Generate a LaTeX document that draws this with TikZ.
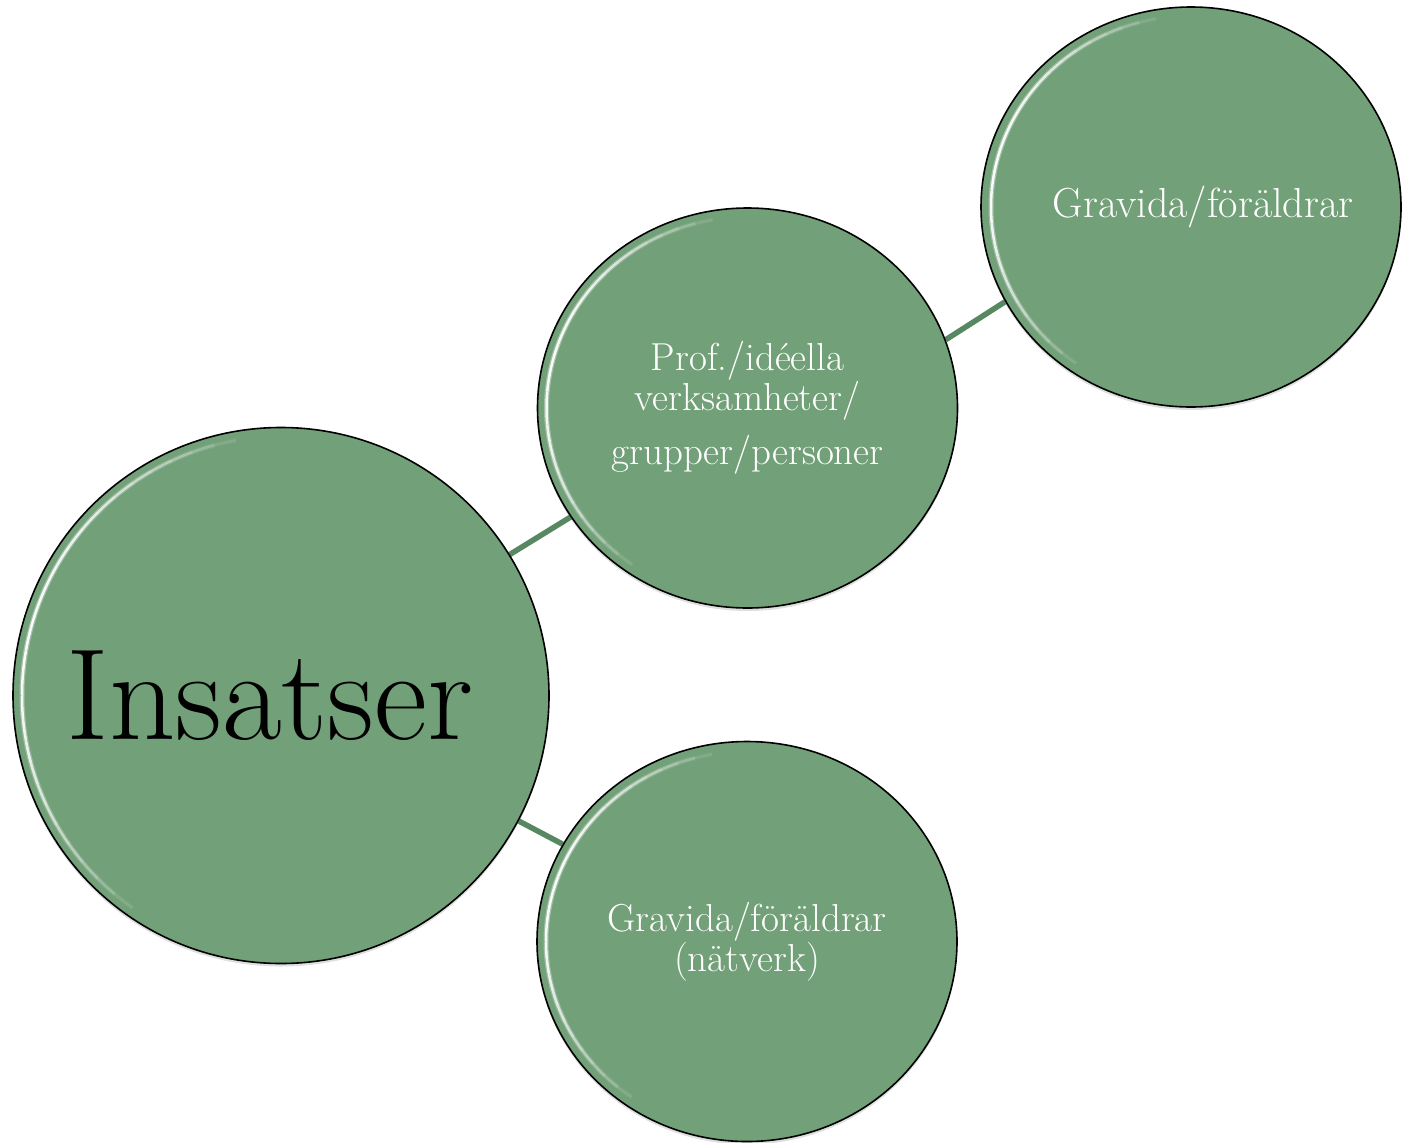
\documentclass[tikz,border=0pt]{standalone}
\usepackage{fontspec}
\usepackage{tikz}
\usetikzlibrary{backgrounds, calc, shapes.geometric, shadows}

\definecolor{bubblegreen}{RGB}{114,160,120}
\definecolor{linkgreen}{RGB}{88,136,97}

\begin{document}
\begin{tikzpicture}[x=1pt, y=1pt,
    bubble/.style={ellipse, draw=black, line width=1.6pt, fill=bubblegreen,
        inner sep=0pt, align=center, text=white,
        minimum width=420pt, minimum height=400pt,
        drop shadow={opacity=0.25, shadow xshift=0pt, shadow yshift=-3pt},
        font=\fontsize{39}{38}\selectfont},
    link/.style={draw=linkgreen, line width=5.5pt}]
    \useasboundingbox (0,0) rectangle (1403,-1143);

    \node (ins) [bubble, circle, minimum size=536pt, text=black,
        font=\fontsize{130}{132}\selectfont] at (281,-695.5)
        {\makebox[0pt]{Insatser\hspace*{22pt}}};
    \node (prof) [bubble] at (747.5,-408)
        {Prof./idéella\\verksamheter/\\[14pt]grupper/personer};
    \node (gp) [bubble, font=\fontsize{42}{44}\selectfont] at (1191,-207)
        {\makebox[0pt]{\hspace*{24pt}\raisebox{-4pt}{Gravida/föräldrar}}};
    \node (natv) [bubble] at (747,-941.5)
        {Gravida/föräldrar\\(nätverk)};

    % glans
    \foreach \bub/\rx/\ry in {ins/259/259, prof/201/191, gp/200/191, natv/201/190}{
        \foreach \ang in {95,100,...,235}{
            \pgfmathsetmacro{\glow}{0.95*sin((\ang-95)/140*180)}
            \draw[white, line width=5pt, opacity=0.35*\glow]
                ($(\bub.center)+(\ang:\rx pt and \ry pt)$)
                arc[start angle=\ang, end angle=\ang+5, x radius=\rx pt, y radius=\ry pt];
            \draw[white, line width=2.5pt, opacity=\glow]
                ($(\bub.center)+(\ang:\rx pt and \ry pt)$)
                arc[start angle=\ang, end angle=\ang+5, x radius=\rx pt, y radius=\ry pt];
        }
    }

    \begin{scope}[on background layer]
        \draw [link] (ins) -- (prof);
        \draw [link] (ins) -- (natv);
        \draw [link] (prof.19) -- (gp.207);
    \end{scope}
\end{tikzpicture}
\end{document}
